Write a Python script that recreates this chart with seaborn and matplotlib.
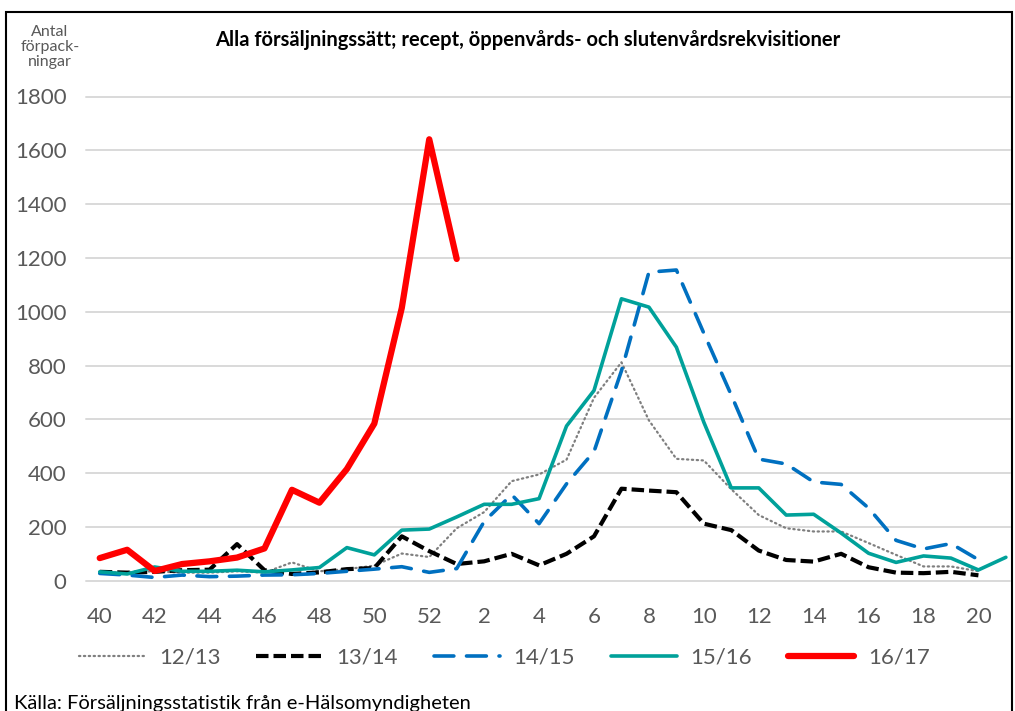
import numpy as np
import pandas as pd
import seaborn as sns
from matplotlib import pyplot as plt
from matplotlib.patches import Rectangle

# weeks 40-52 of one year, then 1-21 of the next
weeks = list(range(40, 53)) + list(range(1, 22))

s1213 = [30, 32, 35, 30, 30, 35, 30, 68, 35, 43, 56, 101, 88,
         195, 255, 370, 395, 450, 680, 812, 596, 453, 447, 340, 244, 195, 183, 183, 140, 96, 53, 53, 35, None]
s1314 = [33, 30, 33, 39, 41, 136, 39, 25, 31, 43, 47, 165, 110,
         62, 72, 100, 57, 100, 165, 342, 335, 329, 212, 188, 112, 77, 71, 100, 50, 30, 28, 33, 20, None]
s1415 = [27, 21, 12, 21, 15, 17, 21, 22, 27, 35, 43, 52, 31,
         45, 220, 320, 212, 360, 480, 780, 1147, 1155, 920, 690, 452, 434, 367, 358, 270, 150, 118, 138, 78, None]
s1516 = [33, 25, 51, 35, 35, 39, 33, 40, 49, 123, 96, 188, 192,
         237, 284, 284, 305, 575, 707, 1048, 1017, 868, 589, 345, 345, 244, 247, 177, 102, 68, 92, 84, 40, 87]
s1617 = [84, 115, 36, 62, 72, 86, 120, 338, 290, 415, 584, 1014, 1641,
         1196] + [None] * 20

season_names = ['12/13', '13/14', '14/15', '15/16', '16/17']
yticks = list(range(0, 2000, 200))

title = 'Alla försäljningssätt; recept, öppenvårds- och slutenvårdsrekvisitioner'
ylabel = 'Antal\nförpack-\nningar'
source = 'Källa: Försäljningsstatistik från e-Hälsomyndigheten'


def main():
    sns.set_theme(style='white')
    plt.rcParams['font.family'] = ['Lato', 'DejaVu Sans']

    df = pd.DataFrame({'pos': np.arange(len(weeks))})
    for name, vals in zip(season_names, [s1213, s1314, s1415, s1516, s1617]):
        df[name] = pd.Series(vals, dtype='float')

    styles = {
        '12/13': dict(color='#7f7f7f', lw=1.6, linestyle=(0, (0.6, 1.6)), dash_capstyle='round'),
        '13/14': dict(color='black', lw=3.0, linestyle=(0, (3, 1.2))),
        '14/15': dict(color='#0070c0', lw=2.6, linestyle=(0, (5.5, 3.5)), dash_capstyle='round'),
        '15/16': dict(color='#00a19a', lw=2.6, linestyle='-'),
        '16/17': dict(color='#ff0000', lw=4.5, linestyle='-', solid_capstyle='round'),
    }

    fig = plt.figure(figsize=(10.15, 7.11), dpi=100)
    ax = fig.add_axes([86 / 1015, 130.3 / 711, 924 / 1015, 484.2 / 711])

    for name in season_names:
        sub = df[['pos', name]].dropna()
        sns.lineplot(x=sub['pos'], y=sub[name], ax=ax, label=name, **styles[name])

    ax.set_xlim(-0.5, 33.15)
    ax.set_ylim(0, 1800)
    ax.set_yticks(yticks)
    ax.set_yticklabels([str(v) for v in yticks])
    ax.set_xticks(df['pos'][::2])
    ax.set_xticklabels([str(w) for w in weeks[::2]])
    ax.tick_params(axis='both', length=0, labelsize=16, labelcolor='#595959')
    ax.tick_params(axis='y', pad=14)
    ax.tick_params(axis='x', pad=19)
    ax.set_xlabel('')
    ax.set_ylabel('')
    ax.yaxis.grid(True, color='#d9d9d9', lw=1.4)
    for g in ax.get_ygridlines():
        g.set_clip_on(False)
    ax.set_axisbelow(True)
    sns.despine(ax=ax, left=True, bottom=True)

    handles, labels = ax.get_legend_handles_labels()
    ax.get_legend().remove()
    fig.legend(handles, labels, loc='center', bbox_to_anchor=(0.497, 53 / 711), ncol=5,
               frameon=False, fontsize=16, handlelength=3.0, handletextpad=0.6,
               columnspacing=1.6, labelcolor='#595959')

    fig.text(528 / 1015, 1 - 40 / 711, title, ha='center', va='center',
             fontsize=14.5, fontweight='bold', color='black')
    fig.text(50 / 1015, 1 - 47 / 711, ylabel, ha='center', va='center',
             fontsize=11.5, color='#595959', linespacing=1.1)
    fig.text(14 / 1015, 8 / 711, source, ha='left', va='center', fontsize=14.5, color='black')

    fig.patches.append(Rectangle((6 / 1015, -0.05), 1006 / 1015, 1 - 12 / 711 + 0.05,
                                 transform=fig.transFigure, fill=False, ec='black', lw=1.5))

    fig.savefig('out.png', dpi=100)


if __name__ == '__main__':
    main()
